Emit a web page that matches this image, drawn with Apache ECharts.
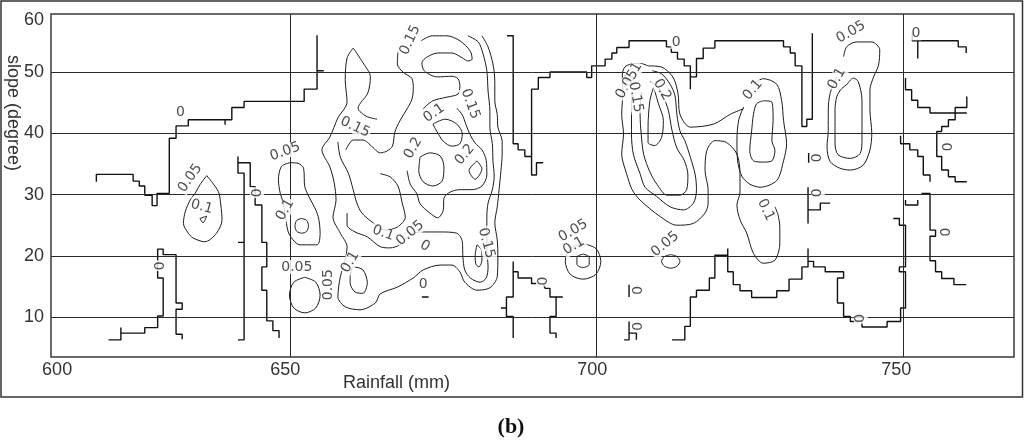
<!DOCTYPE html>
<html><head><meta charset="utf-8">
<script src="https://cdn.jsdelivr.net/npm/echarts@6/dist/echarts.min.js"></script>
<style>html,body{margin:0;padding:0;background:#fff}#c{width:1024px;height:441px}</style>
</head><body><div id="c"></div>
<script>
// ---- axis values ----
const xGridValues = [650, 700, 750];
const yGridValues = [10, 20, 30, 40, 50];
const xLabelValues = [612.0, 649.2, 699.3, 748.9];
const xLabelTexts = ['600', '650', '700', '750'];
const yLabelValues = [10, 20, 30, 40, 50, 58.5];
const yLabelTexts = ['10', '20', '30', '40', '50', '60'];

// ---- level-0 (staircase) contour lines: [rainfall, slope] ----
const L1 = [[618.4,32.1],[618.4,33.3],[624.4,33.3],[624.4,32.2],[625.4,32.2],[625.4,31.4],[626.3,31.4],[626.3,29.9],[627.5,29.9],[627.5,28.2],[628.3,28.2],[628.3,30.2],[630.3,30.2],[630.3,39.2],[631.4,39.2],[631.4,41.2],[633.4,41.2],[633.4,42.2],[639.4,42.2],[639.4,41.4],[639.4,42.2],[640.5,42.2],[640.5,44.2],[642.5,44.2],[642.5,45.2],[652.3,45.2],[652.3,47.2],[654.4,47.2],[654.4,50.2],[655.5,50.2],[654.4,50.2],[654.4,56.0]];
const L2 = [[620.4,6.3],[622.4,6.3],[622.4,8.3],[622.4,7.4],[626.3,7.4],[626.3,8.3],[628.4,8.3],[628.4,10.2],[629.3,10.2],[629.3,16.4],[628.4,16.4],[628.4,21.1],[629.3,21.1],[629.3,20.2],[631.4,20.2],[631.4,12.3],[632.4,12.3],[632.4,11.3],[631.4,11.3],[631.4,7.2],[632.4,7.2],[632.4,6.4]];
const L3 = [[641.5,36.2],[641.5,33.5],[642.5,33.5],[642.5,6.3],[641.5,6.3]];
const L3tick = [[641.5,22.2],[642.5,22.2]];
const L4 = [[641.5,35.2],[643.5,35.2],[643.5,31.3],[644.3,31.3],[644.3,28.3],[645.4,28.3],[645.4,22.2],[646.2,22.2],[646.2,18.2],[645.4,18.2],[645.4,14.4],[646.2,14.4],[646.2,9.4],[647.2,9.4],[647.2,7.8],[648.2,7.8],[648.2,6.6]];
const SA = [[686.4,19.1],[686.4,17.4],[687.2,17.4],[687.2,16.4],[689.4,16.4],[689.4,15.5],[690.2,15.5]];
const SB = [[691.3,15.5],[691.6,14.7],[692.4,14.7],[692.4,13.3],[694.5,13.3]];
const SC = [[693.4,13.3],[693.4,10.1],[692.4,10.1],[692.4,7.4],[693.4,7.4],[693.4,6.6]];
const SD = [[686.4,17.4],[686.4,13.3],[685.3,13.3],[685.3,11.5],[684.4,11.5],[685.3,11.5],[685.3,10.1],[686.4,10.1],[686.4,6.6]];
const S1 = [[685.4,55.9],[686.4,55.9],[686.4,38.3],[687.2,38.3],[687.2,37.3],[688.3,37.3],[688.3,36.2],[689.4,36.2]];
const S2 = [[691.3,35.2],[690.2,35.2],[690.2,33.2],[689.4,33.2],[689.4,47.2],[690.5,47.2],[690.5,49.1],[692.4,49.1],[692.4,50.0],[698.4,50.0],[698.4,49.1],[699.2,49.1],[699.2,51.0],[701.4,51.0],[701.4,52.1],[702.5,52.1],[702.5,53.1],[703.3,53.1],[703.3,54.0],[705.3,54.0],[705.3,55.1],[711.4,55.1],[711.4,54.1],[712.2,54.1],[712.2,53.2],[713.2,53.2],[713.2,52.1],[714.3,52.1],[714.3,51.0],[715.3,51.0],[715.3,47.2]];
const S3 = [[715.3,49.2],[716.3,49.2],[716.3,52.2],[717.4,52.2],[717.4,53.9],[719.3,53.9],[719.3,55.1],[730.5,55.1],[730.5,54.1],[731.6,54.1],[731.6,53.1],[732.4,53.1],[732.4,51.0],[733.5,51.0],[733.5,41.1],[734.3,41.1],[734.3,42.3],[735.2,42.3],[735.2,56.3]];
const T1a = [[751.5,56.3],[751.5,55.1],[752.4,55.1],[752.4,52.2]];
const T1b = [[752.4,55.1],[759.0,55.1],[759.0,54.1],[760.3,54.1],[760.3,53.1]];
const T2 = [[750.4,49.0],[750.4,47.1],[751.4,47.1],[751.4,45.4],[752.4,45.4],[752.4,44.2],[754.4,44.2],[754.4,43.3],[758.5,43.3],[758.5,44.2],[760.4,44.2],[760.4,46.0]];
const T2spur = [[758.5,43.3],[760.4,43.3]];
const T3 = [[758.5,43.3],[758.5,42.2],[757.4,42.2],[757.4,41.1],[756.3,41.1],[756.3,40.3],[755.5,40.3],[755.5,36.2],[756.3,36.2],[756.3,34.0],[757.4,34.0],[757.4,32.9],[758.5,32.9],[758.5,32.1],[760.4,32.1]];
const T4 = [[749.6,39.6],[749.6,38.3],[751.1,38.3],[751.1,37.3],[752.4,37.3],[752.4,36.2],[753.3,36.2],[753.3,33.2],[754.4,33.2],[754.4,32.1]];
const T5 = [[753.0,30.2],[754.4,30.2],[754.4,24.2],[755.3,24.2],[755.3,23.2],[754.4,23.2],[754.4,19.2],[755.3,19.2],[755.3,17.4],[756.3,17.4],[756.3,16.3],[758.3,16.3],[758.3,15.3],[760.3,15.3]];
const T5u = [[750.4,29.1],[750.4,28.3],[752.4,28.3],[752.4,29.1]];
const T6 = [[748.4,26.1],[749.4,26.1],[749.4,25.0],[750.4,25.0],[750.4,18.2],[749.4,18.2],[749.4,17.4],[750.4,17.4],[750.4,11.5],[749.6,11.5],[749.6,9.3],[747.4,9.3],[747.4,8.4],[743.3,8.4],[743.3,9.3],[741.4,9.3],[741.4,10.1],[740.3,10.1],[740.3,12.3],[739.3,12.3],[739.3,16.4],[740.3,16.4],[740.3,17.4],[737.3,17.4],[737.3,18.2],[735.4,18.2],[735.4,19.1],[734.5,19.1]];
const T7 = [[712.3,6.3],[714.4,6.3],[714.4,8.5],[715.3,8.5],[715.3,13.3],[716.3,13.3],[716.3,14.4],[718.4,14.4],[718.4,16.4],[719.3,16.4],[719.3,20.1],[721.4,20.1],[721.4,21.2]];
const T8 = [[721.4,20.1],[721.4,17.4],[722.3,17.4],[722.3,15.3],[723.4,15.3],[723.4,14.3],[725.3,14.3],[725.3,13.2],[729.4,13.2],[729.4,14.3],[731.4,14.3],[731.4,16.2],[733.5,16.2],[733.5,18.2],[734.5,18.2],[734.5,21.2]];
const bar1 = [[705.3,15.3],[705.3,13.3]];
const bar2a = [[704.5,6.3],[705.3,6.3],[705.3,9.3]];
const bar2b = [[705.3,7.4],[706.5,7.4],[706.5,6.3]];
const bar3 = [[734.6,36.8],[734.6,35.2]];
const bar4 = [[734.5,31.2],[734.5,25.3]];
const bar4b = [[734.5,27.5],[736.5,27.5],[736.5,28.6],[738.1,28.6]];
const underline0 = [[671.5,13.3],[672.6,13.3]];

// ---- smooth contour lines (levels 0.05 - 0.2) ----
const D = [[636.4,33.1],[638.3,30.5],[638.7,28.3],[638.9,25.9],[638.0,23.7],[636.1,22.3],[634.2,22.9],[633.4,23.7],[632.6,25.3],[632.9,27.2],[633.7,29.1],[634.5,30.2],[635.3,31.6],[636.4,33.1]];
const Dinner = [[635.3,26.1],[636.4,26.5],[635.8,25.4],[635.3,26.1]];
const E = [[650.0,35.2],[651.3,35.1],[652.2,34.3],[652.4,31.3],[653.1,29.6],[653.8,28.3],[654.6,26.4],[654.9,23.7],[654.4,21.8],[651.6,21.8],[650.5,22.6],[649.7,23.9],[649.2,26.7],[648.9,28.6],[648.4,30.2],[648.1,32.4],[648.6,34.6],[650.0,35.2]];
const Einner = [[651.9,26.1],[652.7,25.8],[653.0,24.9],[652.7,24.0],[651.9,23.7],[651.1,24.0],[650.8,24.9],[651.1,25.8],[651.9,26.1]];
const F = [[652.4,16.5],[654.2,15.7],[654.9,13.6],[654.2,11.5],[652.4,10.7],[650.6,11.5],[649.9,13.6],[650.6,15.7],[652.4,16.5]];
const CC1 = [[660.3,53.9],[659.3,52.3],[659.0,48.7],[659.3,45.1],[657.8,42.5],[656.5,39.4],[655.2,37.3],[656.5,34.5],[657.2,31.9],[657.5,29.1],[657.0,26.3],[658.2,23.7],[659.3,21.5],[659.0,19.3],[658.2,16.6],[657.8,13.3],[659.0,11.7],[661.4,11.2],[663.9,12.3],[664.7,13.8],[667.5,14.9],[670.1,16.4],[671.7,17.7],[674.5,18.5],[676.4,18.5],[677.7,17.4],[678.5,15.7],[680.5,14.4],[682.6,14.8],[683.8,16.6],[683.9,19.8],[683.8,22.6],[683.4,25.4],[683.8,28.0],[684.1,30.8],[684.4,33.9],[684.6,36.6],[684.6,38.7],[683.9,41.0],[683.8,43.1],[683.4,45.3],[683.4,48.5],[683.1,51.3],[682.3,54.1],[681.3,55.9]];
const CC2 = [[660.3,53.9],[661.9,51.5],[663.1,49.2],[662.7,46.6],[661.1,44.1],[662.4,42.8],[664.2,42.3]];
const CC3 = [[679.0,55.9],[680.7,54.9],[681.5,52.9],[682.1,50.2],[682.3,46.9],[682.6,43.6],[682.6,41.0],[683.0,38.3],[683.1,35.5],[683.3,33.0],[683.0,30.8],[682.3,28.6],[682.1,26.3],[682.1,23.7],[682.1,21.0],[682.3,18.2],[682.0,16.4],[681.0,15.7],[679.4,16.4],[678.5,17.7],[678.2,19.8],[678.1,22.3],[677.2,23.7],[674.5,23.9],[671.2,23.9],[669.6,23.4],[667.9,21.8],[666.3,21.3],[664.7,21.5],[662.6,23.1],[660.6,23.9],[659.3,25.0],[659.3,27.0]];
const CC4 = [[657.8,38.6],[658.2,36.1],[659.5,33.5],[660.3,30.8],[660.9,28.6],[661.7,27.0],[663.4,25.5],[665.5,24.2],[667.5,24.7],[668.8,26.3],[668.3,28.6],[667.6,31.4],[666.3,32.9],[664.7,33.4]];
const CC6 = [[667.6,53.4],[667.5,51.3],[668.4,50.0],[669.9,48.9],[670.1,47.2],[669.9,45.6],[669.1,44.0],[667.9,42.0],[667.1,40.2],[666.7,37.9],[665.8,37.1],[664.7,36.8],[663.4,37.8],[661.9,38.9],[660.3,38.9],[659.1,37.3]];
const CC7 = [[671.4,55.1],[673.2,55.9],[675.6,55.9],[677.7,55.1],[679.4,53.4],[679.7,52.1],[679.0,51.8],[678.1,52.3],[676.4,53.1],[674.1,53.1],[672.3,52.4],[671.5,51.5],[671.9,50.2],[674.0,49.2],[676.4,49.3],[677.4,48.9],[677.7,47.7],[677.4,46.4],[675.6,45.9],[673.3,45.3],[671.7,44.0]];
const CC8 = [[673.3,41.5],[675.3,42.3],[677.2,41.5],[678.1,39.9],[677.7,38.3],[676.4,37.9],[675.0,38.7],[674.0,40.2],[673.3,41.5]];
const CC9 = [[671.2,36.1],[672.8,36.8],[674.5,36.3],[675.1,34.5],[674.8,32.2],[673.3,31.4],[671.7,32.1],[671.0,33.9],[671.2,36.1]];
const CC10 = [[680.5,35.5],[681.3,34.2],[680.2,32.5],[679.2,33.9],[680.5,35.5]];
const CC11 = [[669.1,33.9],[669.6,31.7],[670.7,30.1],[671.2,28.5],[672.8,27.0],[674.1,26.2],[675.0,27.5],[675.1,29.4],[676.1,30.4],[677.7,30.8],[679.7,30.8],[681.3,31.4],[682.1,33.2],[682.0,35.6],[681.3,37.3],[680.2,38.4],[679.4,39.7],[678.7,41.4],[678.1,43.0],[677.2,44.1]];
const CC13 = [[680.5,21.8],[681.2,21.0],[681.3,19.3],[680.8,18.2],[680.3,18.7],[680.2,20.1],[680.5,21.8]];
const CC15 = [[659.8,16.6],[660.3,18.2],[661.9,17.7],[662.6,15.6],[661.9,13.9],[660.6,14.1],[659.8,15.6],[659.8,16.6]];
const RA = [[708.4,51.0],[707.1,51.4],[705.7,51.3],[704.6,50.8],[704.2,49.5],[704.3,46.9],[704.1,43.1],[704.4,39.9],[704.1,36.6],[704.9,33.4],[705.8,30.8],[707.1,29.1],[710.4,26.4],[713.1,25.0],[715.8,25.3],[717.7,27.0],[718.2,28.6],[718.2,30.8],[717.7,33.9],[718.0,37.2],[719.3,38.8],[721.2,38.5],[722.9,36.6],[723.4,33.4],[723.4,30.4],[722.9,28.3],[723.4,25.9],[724.5,23.7],[725.6,20.4],[727.2,18.8],[729.1,19.3],[729.9,22.1],[729.9,24.7],[729.6,26.7],[729.1,28.0]];
const RB = [[708.4,51.0],[710.6,50.8],[712.5,49.1],[713.3,46.4],[713.6,43.1],[715.3,41.0],[719.1,41.5],[721.8,43.1],[724.0,44.0]];
const RC = [[726.0,48.4],[727.2,48.9],[729.4,48.0],[730.2,45.3],[730.5,42.1],[731.0,38.3],[730.5,35.5],[729.4,32.3],[726.7,31.2],[725.0,31.7],[723.7,33.0],[723.0,35.6],[722.9,38.9],[723.2,42.2],[724.0,44.3]];
const RD = [[727.2,45.3],[728.6,45.1],[728.8,42.1],[728.6,38.8],[729.1,37.2],[728.6,35.5],[727.2,35.3],[725.6,35.5],[725.0,37.2],[725.3,40.4],[725.6,43.1],[726.1,44.8],[727.2,45.3]];
const RG = [[705.8,46.4],[705.7,43.1],[705.7,39.9],[706.0,36.6],[707.1,33.4],[707.9,31.2],[709.8,29.7],[712.0,28.0],[714.2,27.5],[715.8,28.6],[716.3,30.8],[716.1,33.2],[715.3,36.1],[714.4,38.8],[713.6,40.4],[713.1,43.1],[712.8,46.1],[712.0,48.0],[710.6,49.7],[709.1,50.2]];
const RH = [[707.3,46.7],[707.1,43.1],[707.3,39.7],[707.7,36.5],[708.7,33.7],[709.9,31.6],[711.5,29.9],[713.6,29.9],[714.7,30.8],[714.9,33.2],[714.3,35.6],[713.1,37.6],[712.3,40.5],[711.7,43.8],[710.8,46.2],[709.9,47.7],[708.7,48.4]];
const RI = [[709.3,47.5],[708.7,45.3],[708.4,41.0],[708.4,38.5],[709.5,38.0],[710.6,39.3],[710.9,42.1],[710.1,44.8],[709.5,46.9],[709.3,47.5]];
const RR = [[740.3,52.5],[740.8,54.1],[742.4,54.9],[744.9,54.9],[746.2,53.6],[746.0,51.1],[745.2,49.2],[744.6,47.1],[744.6,43.8],[744.9,40.0],[744.6,37.3],[743.5,34.8],[741.4,34.0],[739.7,34.3],[738.1,35.4],[737.6,37.8],[737.8,40.5],[737.8,43.8],[738.1,46.5],[739.2,49.2]];
const RRi = [[740.8,47.9],[741.9,49.0],[742.7,48.4],[743.3,45.4],[743.3,42.2],[743.3,38.9],[743.0,36.7],[741.4,35.9],[739.4,36.5],[738.9,38.4],[738.9,41.1],[738.9,43.8],[739.2,46.0],[740.0,47.3],[740.8,47.9]];
const circA = [[697.8,22.0],[699.9,21.2],[700.7,19.1],[699.9,17.0],[697.8,16.2],[695.7,17.0],[694.9,19.1],[695.7,21.2],[697.8,22.0]];
const hexA = [[697.8,20.3],[698.8,19.8],[698.8,18.6],[697.8,18.1],[696.8,18.6],[696.8,19.8],[697.8,20.3]];
const circB = [[712.1,20.2],[713.1,19.9],[713.6,19.1],[713.1,18.3],[712.1,18.0],[711.1,18.3],[710.6,19.1],[711.1,19.9],[712.1,20.2]];

// ---- contour labels: [rainfall, slope, text, rotation] ----
const contourLabels = [
 [632.1,43.4,'0',0],[628.8,18.4,'0',90],[644.6,30.3,'0',90],
 [633.7,32.7,'0.05',55],[635.6,28.0,'0.1',-15],
 [649.2,37.0,'0.05',20],[649.2,27.5,'0.1',60],
 [651.1,18.2,'0.05',0],[656.2,15.3,'0.05',90],
 [669.6,55.2,'0.15',65],[660.6,41.0,'0.15',-25],[673.5,43.3,'0.1',35],
 [679.4,44.8,'0.15',-70],[670.1,37.6,'0.2',60],[678.5,36.5,'0.2',50],
 [665.2,23.7,'0.1',-20],[669.6,23.7,'0.05',40],[672.0,21.6,'0',-30],
 [682.0,22.1,'0.15',-75],[671.7,15.4,'0',0],[659.8,19.0,'0.1',60],
 [691.3,15.9,'0',90],[713.0,54.9,'0',0],
 [706.0,49.8,'0.1',60],[705.0,48.0,'0.05',60],[706.4,45.9,'0.15',-80],[710.7,47.1,'0.2',-60],
 [725.5,47.1,'0.1',50],[741.5,56.5,'0.05',30],[739.2,48.9,'0.1',60],
 [727.6,27.5,'0.1',-65],[711.2,21.9,'0.05',40],
 [696.2,24.1,'0.05',30],[696.3,21.6,'0.1',30],
 [706.9,14.4,'0',90],[706.9,8.5,'0',90],[743.1,9.8,'0',90],
 [736.1,36.0,'0',90],[736.1,30.3,'0',90],
 [757.4,37.8,'0',90],[757.1,23.9,'0',90],[752.1,56.3,'0',0]
];

const stepLines = [L1,L2,L3,L3tick,L4,SA,SB,SC,SD,S1,S2,S3,T1a,T1b,T2,T2spur,T3,T4,T5,T5u,T6,T7,T8,bar1,bar2a,bar2b,bar3,bar4,bar4b,underline0];
const curveLines = [D,Dinner,E,Einner,F,CC1,CC2,CC3,CC4,CC6,CC7,CC8,CC9,CC10,CC11,CC13,CC15,RA,RB,RC,RD,RG,RH,RI,RR,RRi,circA,hexA,circB];

function nearestText(vals, texts, v) {
  let best = 0;
  for (let i = 1; i < vals.length; i++) if (Math.abs(vals[i] - v) < Math.abs(vals[best] - v)) best = i;
  return texts[best];
}

const ink = '#1c1c1c';
const series = [];
series.push({
  type: 'line', data: [], silent: true, animation: false,
  markLine: {
    silent: true, symbol: 'none', animation: false, label: {show: false},
    lineStyle: {color: '#2a2a2a', width: 1, type: 'solid'},
    data: xGridValues.map(v => ({xAxis: v})).concat(yGridValues.map(v => ({yAxis: v})))
  }
});
stepLines.forEach(d => series.push({
  type: 'line', data: d, smooth: false, symbol: 'none', silent: true, animation: false,
  lineStyle: {color: '#111', width: 1.4}, z: 3
}));
curveLines.forEach(d => series.push({
  type: 'line', data: d, smooth: 0.3, symbol: 'none', silent: true, animation: false,
  lineStyle: {color: ink, width: 1}, z: 3
}));
series.push({
  type: 'scatter', symbolSize: 0, silent: true, animation: false, z: 5,
  data: contourLabels.map(l => ({value: [l[0], l[1]], label: {show: true, formatter: l[2], rotate: l[3]}})),
  label: {position: 'inside', fontFamily: 'DejaVu Sans', fontSize: 14, color: '#222', backgroundColor: '#fff', padding: [0, 1]}
});

const chart = echarts.init(document.getElementById('c'));
chart.setOption({
  animation: false,
  backgroundColor: '#fff',
  grid: {left: 51, top: 14, width: 963, height: 343, show: true, borderColor: '#3a3a3a', borderWidth: 1.5,
    backgroundColor: 'transparent', containLabel: false, outerBoundsMode: 'none'},
  xAxis: {
    type: 'value', min: 611.0, max: 768.1,
    axisLine: {show: false}, axisTick: {show: false}, splitLine: {show: false},
    axisLabel: {customValues: xLabelValues, formatter: v => nearestText(xLabelValues, xLabelTexts, v),
      fontFamily: 'Liberation Sans', fontSize: 18, color: '#333', margin: 4},
    name: 'Rainfall (mm)', nameLocation: 'middle', nameGap: 17, nameMoveOverlap: false,
    nameTextStyle: {fontFamily: 'Liberation Sans', fontSize: 18, color: '#333', padding: [0, 272, 0, 0]}
  },
  yAxis: {
    type: 'value', min: 3.5, max: 59.46,
    axisLine: {show: false}, axisTick: {show: false}, splitLine: {show: false},
    axisLabel: {customValues: yLabelValues, formatter: v => nearestText(yLabelValues, yLabelTexts, v),
      fontFamily: 'Liberation Sans', fontSize: 18, color: '#333', margin: 7},
    name: 'slope (degree)', nameLocation: 'middle', nameRotate: -90, nameGap: 29, nameMoveOverlap: false,
    nameTextStyle: {fontFamily: 'Liberation Sans', fontSize: 18, color: '#333', padding: [0, 145, 0, 0]}
  },
  graphic: [
    {type: 'rect', shape: {x: 1, y: 1, width: 1021.5, height: 396}, style: {fill: 'none', stroke: '#333', lineWidth: 1.5}, silent: true, z: 0},
    {type: 'text', x: 511, y: 427, style: {text: '(b)', font: 'bold 22px "Liberation Serif"', fill: '#111', textAlign: 'center', textVerticalAlign: 'middle'}, silent: true}
  ],
  series: series
});
</script>
</body></html>
